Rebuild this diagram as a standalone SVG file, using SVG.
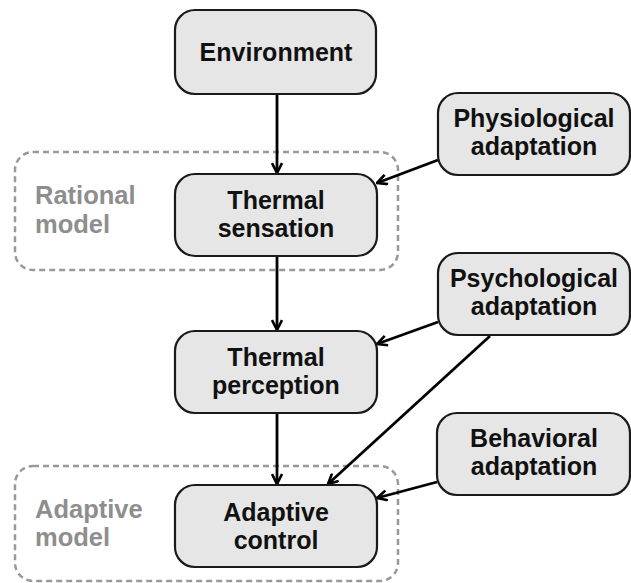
<svg xmlns="http://www.w3.org/2000/svg" width="631" height="583" viewBox="0 0 631 583">
<style>
.box{fill:#e6e6e6;stroke:#1a1a1a;stroke-width:2.2}
.grp{fill:none;stroke:#999;stroke-width:2.5;stroke-dasharray:6 4}
.t{font-family:"Liberation Sans",Arial,sans-serif;font-weight:bold;font-size:25px;fill:#111;text-anchor:middle}
.g{font-family:"Liberation Sans",Arial,sans-serif;font-weight:bold;font-size:25.5px;fill:#8e8e8e}
.c{stroke:#000;stroke-width:2.8;fill:none;marker-end:url(#ah)}
</style>
<defs>
<marker id="ah" viewBox="0 0 12 12" refX="11" refY="6" markerWidth="12" markerHeight="12" markerUnits="userSpaceOnUse" orient="auto">
<path d="M1,1 L11,6 L1,11" fill="none" stroke="#000" stroke-width="2.6"/>
</marker>
</defs>
<g id="rational-model">
<rect class="grp" x="15" y="152" width="383" height="118" rx="18"/>
<text class="g" x="35" y="204">Rational</text>
<text class="g" x="35" y="233">model</text>
</g>
<g id="adaptive-model">
<rect class="grp" x="15" y="466" width="383" height="115" rx="18"/>
<text class="g" x="35" y="518">Adaptive</text>
<text class="g" x="35" y="546">model</text>
</g>
<g id="connectors">
<line class="c" x1="277" y1="94" x2="277" y2="173"/>
<line class="c" x1="438" y1="160" x2="377" y2="183"/>
<line class="c" x1="438" y1="322" x2="377" y2="344"/>
<line class="c" x1="490" y1="336" x2="328" y2="484"/>
<line class="c" x1="277" y1="256" x2="277" y2="330"/>
<line class="c" x1="277" y1="413" x2="277" y2="484"/>
<line class="c" x1="437" y1="482" x2="377" y2="498"/>
</g>
<g id="environment">
<rect class="box" x="175" y="10" width="201" height="84" rx="20"/>
<text class="t" x="276" y="61">Environment</text>
</g>
<g id="thermal-sensation">
<rect class="box" x="175" y="174" width="202" height="82" rx="20"/>
<text class="t" x="276" y="209">Thermal</text>
<text class="t" x="276" y="237">sensation</text>
</g>
<g id="thermal-perception">
<rect class="box" x="175" y="331" width="202" height="82" rx="20"/>
<text class="t" x="276" y="366">Thermal</text>
<text class="t" x="276" y="394">perception</text>
</g>
<g id="adaptive-control">
<rect class="box" x="175" y="485" width="202" height="82" rx="20"/>
<text class="t" x="276" y="521">Adaptive</text>
<text class="t" x="276" y="549">control</text>
</g>
<g id="physiological-adaptation">
<rect class="box" x="438" y="93" width="192" height="82" rx="20"/>
<text class="t" x="534" y="127">Physiological</text>
<text class="t" x="534" y="155">adaptation</text>
</g>
<g id="psychological-adaptation">
<rect class="box" x="438" y="253" width="192" height="82" rx="20"/>
<text class="t" x="534" y="287">Psychological</text>
<text class="t" x="534" y="315">adaptation</text>
</g>
<g id="behavioral-adaptation">
<rect class="box" x="437" y="413" width="193" height="82" rx="20"/>
<text class="t" x="534" y="447">Behavioral</text>
<text class="t" x="534" y="475">adaptation</text>
</g>
</svg>
